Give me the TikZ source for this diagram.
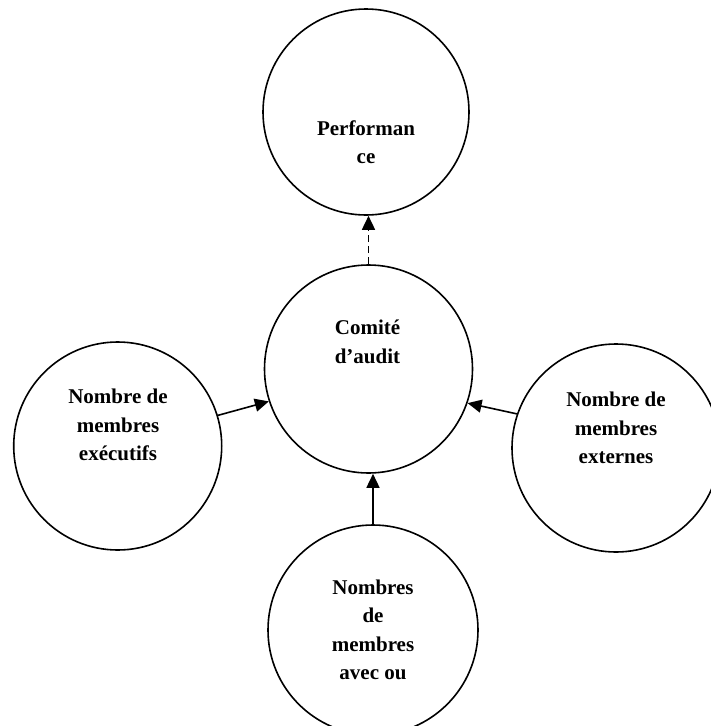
\documentclass[tikz,border=0pt]{standalone}
\usepackage{fontspec}
\setmainfont{Liberation Serif}
\usetikzlibrary{arrows.meta}
\begin{document}
\begin{tikzpicture}[x=1pt,y=-1pt,
  bubble/.style={draw,circle,line width=1.6pt,minimum size=208pt,inner sep=0pt},
  lbl/.style={align=center,font=\fontsize{21}{28.5}\selectfont\bfseries,inner sep=0pt},
  conn/.style={line width=1.6pt,-{Triangle[length=14pt,width=13pt]}}]
\useasboundingbox (0,0) rectangle (711,726);
\node[bubble,minimum size=206pt] (P) at (366,112) {};
\node[bubble] (C) at (368.5,369) {};
\node[bubble] (L) at (117.7,446) {};
\node[bubble] (R) at (616,448) {};
\node[bubble,minimum size=210pt] (B) at (373,630) {};
\node[lbl] (Pt) at (366,142) {Performan\\ce};
\node[lbl] (Ct) at (367.5,342) {Comité\\d’audit};
\node[lbl] (Lt) at (118,425) {Nombre de\\membres\\exécutifs};
\node[lbl] (Rt) at (616,428) {Nombre de\\membres\\externes};
\node[lbl] (Bt) at (373,630) {Nombres\\de\\membres\\avec ou};
\draw[conn,dash pattern=on 7pt off 4pt] (C.north) -- (C.north |- P.south);
\draw[conn] (L.17) -- (C.198);
\draw[conn] (R.161) -- (C.341);
\draw[conn] (B.north) -- (B.north |- C.south);
\end{tikzpicture}
\end{document}
